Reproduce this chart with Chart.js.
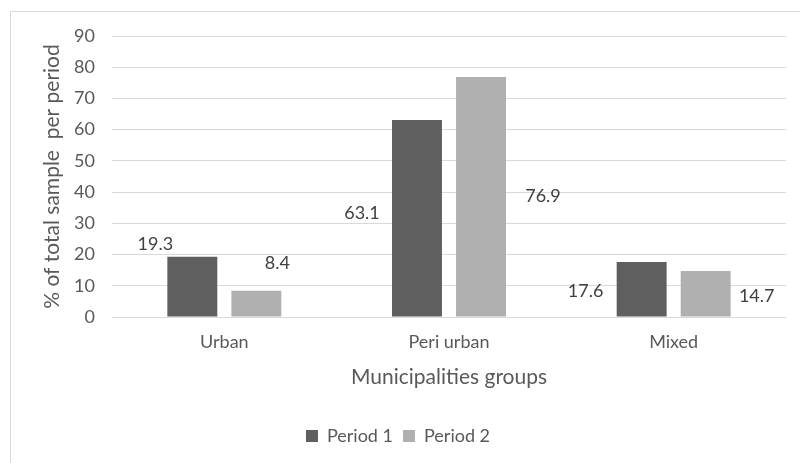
<!DOCTYPE html>
<html lang="en">
<head>
<meta charset="UTF-8">
<title>Municipalities groups</title>
<script src="https://cdn.jsdelivr.net/npm/chart.js"></script>
<style>
  html, body { margin: 0; padding: 0; background: #fff; }
  canvas { display: block; }
</style>
</head>
<body>
<canvas id="grafico" width="800" height="463"></canvas>
<script>
  // dados
  const grupos = ['Urban', 'Peri urban', 'Mixed'];
  const periodo1 = [19.3, 63.1, 17.6];
  const periodo2 = [8.4, 76.9, 14.7];
  const yTicks = [0, 10, 20, 30, 40, 50, 60, 70, 80, 90];

  // deslocamento dos rótulos em relação ao topo de cada barra (px)
  const offsets1 = [[-37, -13], [-55, 93], [-56, 29]];
  const offsets2 = [[21, -28], [62, 119], [51, 25]];

  const fonte = 'Lato, "Open Sans", sans-serif';
  const cinza = '#595959';

  // fundo branco e moldura fina do gráfico
  const moldura = {
    id: 'moldura',
    beforeDraw(chart) {
      const c = chart.ctx;
      c.save();
      c.fillStyle = '#fff';
      c.fillRect(0, 0, chart.width, chart.height);
      c.strokeStyle = '#d9d9d9';
      c.lineWidth = 1;
      c.strokeRect(10.5, 11.5, chart.width + 10, chart.height + 10);
      c.restore();
    }
  };

  // valores escritos ao lado das barras
  const rotulos = {
    id: 'rotulos',
    afterDatasetsDraw(chart) {
      const c = chart.ctx;
      const offs = [offsets1, offsets2];
      c.save();
      c.font = '18px ' + fonte;
      c.fillStyle = '#404040';
      c.textAlign = 'center';
      c.textBaseline = 'middle';
      chart.data.datasets.forEach(function (ds, d) {
        chart.getDatasetMeta(d).data.forEach(function (bar, i) {
          const o = offs[d][i];
          c.fillText(ds.data[i].toFixed(1), bar.x + o[0], bar.y + o[1]);
        });
      });
      c.restore();
    }
  };

  new Chart(document.getElementById('grafico'), {
    type: 'bar',
    data: {
      labels: grupos,
      datasets: [
        { label: 'Period 1', data: periodo1, backgroundColor: '#5f5f5f' },
        { label: 'Period 2', data: periodo2, backgroundColor: '#b0b0b0' }
      ]
    },
    options: {
      responsive: false,
      animation: false,
      devicePixelRatio: 1,
      categoryPercentage: 0.57,
      barPercentage: 0.78,
      layout: { padding: { left: 10, top: 36, right: 14, bottom: 8 } },
      plugins: {
        tooltip: { enabled: false },
        legend: {
          position: 'bottom',
          labels: {
            color: cinza,
            font: { family: fonte, size: 18 },
            boxWidth: 12,
            boxHeight: 12,
            padding: 10
          }
        }
      },
      scales: {
        x: {
          grid: { display: false, drawTicks: false },
          border: { display: false },
          ticks: { color: cinza, font: { family: fonte, size: 18 }, padding: 14 },
          title: {
            display: true,
            text: 'Municipalities groups',
            color: cinza,
            font: { family: fonte, size: 21 },
            padding: { top: 10, bottom: 27 }
          },
          afterFit(scale) { scale.height = 100; }
        },
        y: {
          min: 0,
          max: 90,
          afterBuildTicks(scale) { scale.ticks = yTicks.map(v => ({ value: v })); },
          grid: { color: '#d9d9d9', drawTicks: false },
          border: { display: false },
          ticks: { color: cinza, font: { family: fonte, size: 18 }, padding: 17 },
          title: {
            display: true,
            text: '% of total sample  per period',
            color: cinza,
            font: { family: fonte, size: 21 },
            padding: { top: 30, bottom: 0 }
          },
          afterFit(scale) { scale.width = 102; }
        }
      }
    },
    plugins: [moldura, rotulos]
  });
</script>
</body>
</html>
